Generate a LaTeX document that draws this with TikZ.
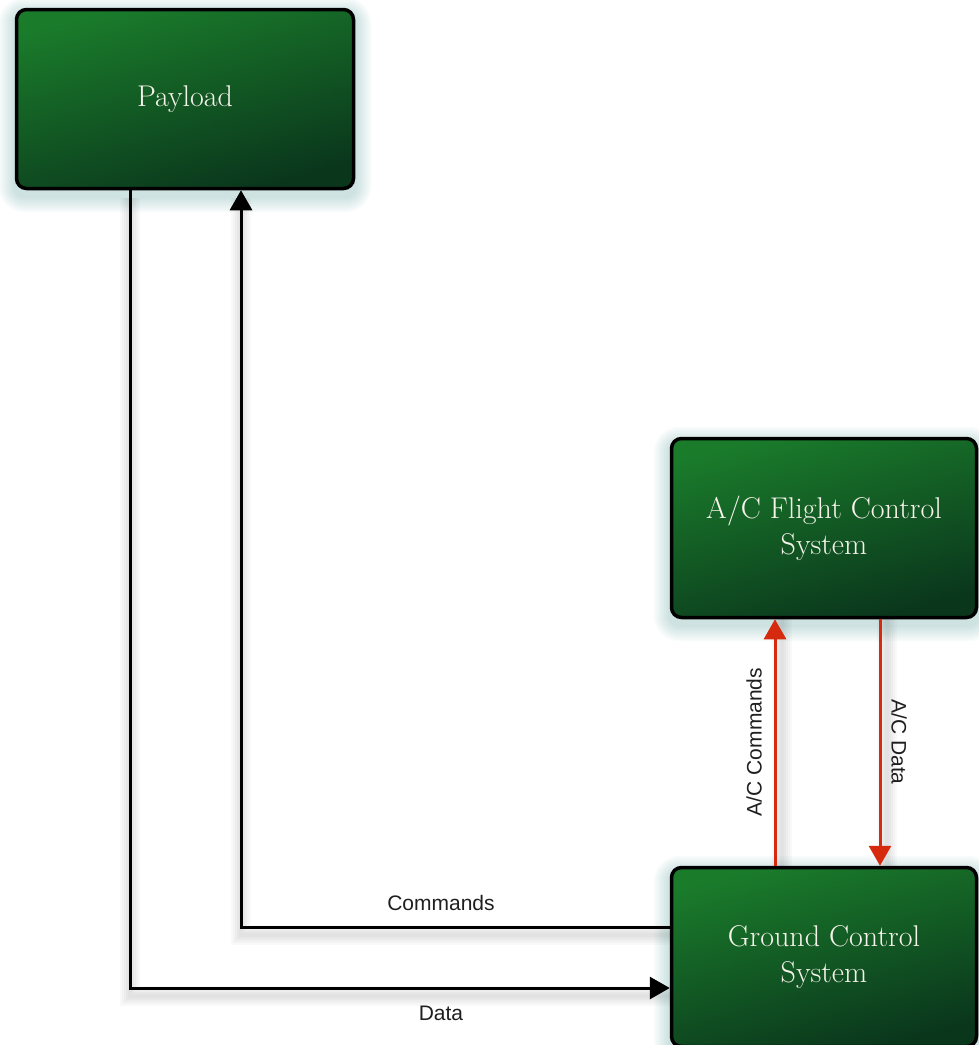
\documentclass[tikz,border=0pt]{standalone}
\usepackage{fontspec}
\newfontfamily\lblfont{Liberation Sans}
\usetikzlibrary{arrows.meta,backgrounds}
\definecolor{gTop}{HTML}{1A7B2B}
\definecolor{gMid}{HTML}{145F24}
\definecolor{gBot}{HTML}{0A361C}
\definecolor{glowc}{HTML}{5E9E9E}
\definecolor{redc}{HTML}{D62A0E}
\definecolor{txtc}{HTML}{F6F3EA}
\begin{document}
\begin{tikzpicture}[x=1pt,y=-1pt,
  box/.style={draw=black, line width=3.5pt, rounded corners=10pt,
    top color=gTop, middle color=gMid, bottom color=gBot, shading angle=15,
    minimum height=179pt, align=center, text=txtc,
    font=\fontsize{30}{36}\selectfont, inner sep=0pt},
  link/.style={line width=3pt, draw=black, -{Triangle[length=20pt,width=22pt]}},
  redlink/.style={link, draw=redc},
  lshadow/.style={draw=black, opacity=0.025},
  lbl/.style={font=\lblfont\fontsize{21}{24}\selectfont, text=black!88}
]
\useasboundingbox (0,0) rectangle (979,1045);

\node[box, minimum width=337pt] (pay) at (185,99) {Payload};
\node[box, minimum width=305pt] (fcs) at (824,528) {A/C Flight Control\\System};
\node[box, minimum width=305pt] (gcs) at (824,957) {Ground Control\\System};

\coordinate (dturn) at (130,988);
\coordinate (cturn) at (241,927);
\coordinate (acc) at (775,742);
\coordinate (acd) at (880,742);

\begin{scope}[on background layer]
  \foreach \n in {pay,fcs,gcs}{
    \foreach \k in {2,4,...,16}{
      \fill[glowc, opacity=0.045, rounded corners=10pt+\k pt]
        ([shift={(-\k,-\k+6)}]\n.north west) rectangle ([shift={(\k,\k+6)}]\n.south east);
    }
  }
  \foreach \w in {4,8,12,16,20}{
    \begin{scope}[transform canvas={yshift=-8pt}]
      \draw[lshadow, line width=\w pt] (pay.south -| dturn) -- (dturn) -- (dturn -| gcs.west);
      \draw[lshadow, line width=\w pt] (gcs.west |- cturn) -- (cturn) -- (cturn |- pay.south);
    \end{scope}
    \begin{scope}[transform canvas={xshift=7pt}]
      \draw[lshadow, line width=\w pt] (gcs.north -| acc) -- (fcs.south -| acc);
      \draw[lshadow, line width=\w pt] (fcs.south -| acd) -- (gcs.north -| acd);
    \end{scope}
  }
\end{scope}

\draw[link] (pay.south -| dturn) -- (dturn) -- (dturn -| gcs.west);
\draw[link] (gcs.west |- cturn) -- (cturn) -- (cturn |- pay.south);
\draw[redlink] (gcs.north -| acc) -- (fcs.south -| acc);
\draw[redlink] (fcs.south -| acd) -- (gcs.north -| acd);

\node[lbl] (lc) at (441,903) {Commands};
\node[lbl] (ld) at (441,1013) {Data};
\node[lbl, rotate=90] (lacc) at (754,742) {A/C Commands};
\node[lbl, rotate=-90] (lacd) at (899,742) {A/C Data};
\end{tikzpicture}
\end{document}
